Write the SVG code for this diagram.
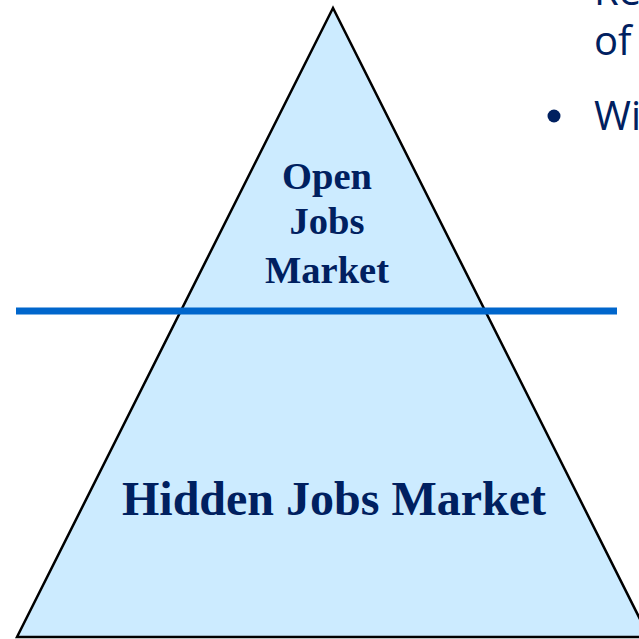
<svg xmlns="http://www.w3.org/2000/svg" width="639" height="639" viewBox="0 0 639 639">
<style>
.lbl{font-family:"Liberation Serif","Times New Roman",serif;font-weight:bold;fill:#002060;text-anchor:middle}
.side{font-family:"Open Sans","Liberation Sans",sans-serif;fill:#002060}
</style>
<rect width="639" height="639" fill="#ffffff"/>
<g id="pyramid">
<polygon points="333,8 17,637 649,637" fill="#CCEBFF" stroke="#000000" stroke-width="2.5" stroke-linejoin="miter"/>
</g>
<g id="connectors">
<line x1="16" y1="311" x2="617" y2="311" stroke="#0066CC" stroke-width="7"/>
</g>
<g id="open-market">
<text class="lbl" x="327" y="189" font-size="38.5">Open</text>
<text class="lbl" x="327" y="234" font-size="38.5">Jobs</text>
<text class="lbl" x="327" y="283" font-size="38.5">Market</text>
</g>
<g id="hidden-market">
<text class="lbl" x="334" y="515" font-size="48">Hidden Jobs Market</text>
</g>
<g id="side-text">
<text class="side" x="594" y="5" font-size="40">Re</text>
<text class="side" x="594" y="55" font-size="40">of</text>
<circle cx="554" cy="116" r="6.5" fill="#002060"/>
<text class="side" x="594" y="130" font-size="40">Wi</text>
</g>
</svg>
